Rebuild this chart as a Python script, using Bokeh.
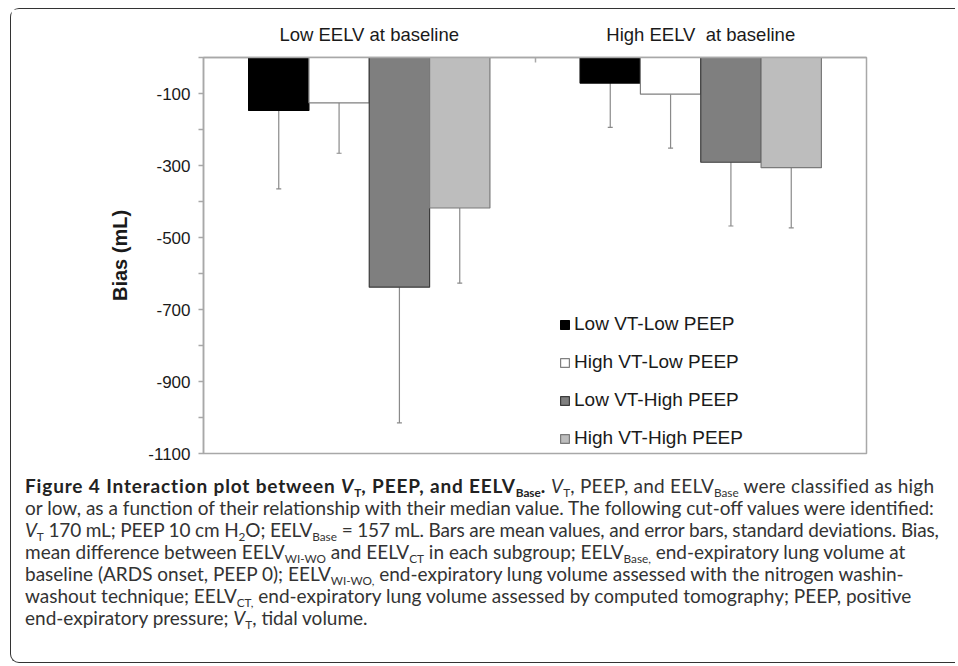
from bokeh.plotting import figure
from bokeh.models import (Range1d, FixedTicker, Legend, LegendItem, Whisker,
                          ColumnDataSource, TeeHead, Div, LinearAxis)
from bokeh.layouts import column
from bokeh.embed import file_html
from bokeh.resources import INLINE

# ---------------- data ----------------
groups = ["Low EELV at baseline", "High EELV\u00a0 at baseline"]
series = ["Low VT-Low PEEP", "High VT-Low PEEP", "Low VT-High PEEP", "High VT-High PEEP"]
mean_low_vt_low_peep = [-147, -71]
mean_high_vt_low_peep = [-126, -102]
mean_low_vt_high_peep = [-638, -291]
mean_high_vt_high_peep = [-418, -306]
sd_low_vt_low_peep = [218, 123]
sd_high_vt_low_peep = [140, 150]
sd_low_vt_high_peep = [377, 177]
sd_high_vt_high_peep = [209, 167]
y_tick_values = [-100, -300, -500, -700, -900, -1100]
y_minor_values = [0, -200, -400, -600, -800, -1000]

means = [mean_low_vt_low_peep, mean_high_vt_low_peep, mean_low_vt_high_peep, mean_high_vt_high_peep]
sds = [sd_low_vt_low_peep, sd_high_vt_low_peep, sd_low_vt_high_peep, sd_high_vt_high_peep]

fills = ["#000000", "#ffffff", "#7f7f7f", "#bdbdbd"]
lines = ["#000000", "#808080", "#3c3c3c", "#7a7a7a"]

FONT = "Liberation Sans"
BW = 0.182
GRAY = "#a8a8a8"

p = figure(width=944, height=466, output_backend="svg", toolbar_location=None,
           x_range=Range1d(0, 2), y_range=Range1d(-1100, 0),
           x_axis_location="above",
           min_border_left=192, min_border_right=89, min_border_top=48, min_border_bottom=22)
p.outline_line_color = GRAY
p.outline_line_width = 1.5
p.xgrid.visible = False
p.ygrid.visible = False

# top x axis: separator tick between the two groups
xa = p.xaxis[0]
xa.ticker = FixedTicker(ticks=[1], minor_ticks=[])
xa.major_label_overrides = {1: ""}
xa.major_label_text_font_size = "1px"
xa.major_label_standoff = 0
xa.major_tick_in = 5
xa.major_tick_out = 0
xa.minor_tick_in = 0
xa.minor_tick_out = 0
xa.axis_line_color = GRAY
xa.axis_line_width = 1.5
xa.major_tick_line_color = GRAY
xa.major_tick_line_width = 1.5

# second top axis carrying the group titles
group_pos = [g + 0.5 for g in range(len(groups))]
ta = LinearAxis(ticker=FixedTicker(ticks=group_pos, minor_ticks=[]),
                major_label_overrides={x: n for x, n in zip(group_pos, groups)},
                axis_line_color=None, major_tick_line_color=None, minor_tick_line_color=None,
                major_label_text_font=FONT, major_label_text_font_size="18.5px",
                major_label_text_color="#1a1a1a", major_label_standoff=7)
p.add_layout(ta, "above")

ya = p.yaxis[0]
ya.ticker = FixedTicker(ticks=y_tick_values, minor_ticks=y_minor_values)
ya.major_label_overrides = {v: str(v) for v in y_tick_values}
ya.major_tick_in = 0
ya.major_tick_out = 5
ya.minor_tick_in = 0
ya.minor_tick_out = 5
ya.axis_line_color = GRAY
ya.axis_line_width = 1.5
ya.major_tick_line_color = GRAY
ya.minor_tick_line_color = GRAY
ya.major_tick_line_width = 1.5
ya.minor_tick_line_width = 1.5
ya.major_label_text_font = FONT
ya.major_label_text_font_size = "17px"
ya.major_label_text_color = "#1a1a1a"
ya.major_label_standoff = 8
ya.axis_label = "Bias (mL)"
ya.axis_label_text_font = FONT
ya.axis_label_text_font_size = "20px"
ya.axis_label_text_font_style = "bold"
ya.axis_label_text_color = "#1a1a1a"
ya.axis_label_standoff = 14

items = []
for i, s in enumerate(series):
    xs = [g + 0.5 + (i - 1.5) * BW for g in range(len(groups))]
    src = ColumnDataSource(dict(x=xs, top=[0] * len(groups), bottom=means[i],
                                lower=[m - d for m, d in zip(means[i], sds[i])]))
    r = p.vbar(x="x", width=BW, top="top", bottom="bottom", source=src,
               fill_color=fills[i], line_color=lines[i], line_width=1.2)
    w = Whisker(base="x", upper="bottom", lower="lower", source=src, dimension="height",
                line_color="#8a8a8a", line_width=1.2, upper_head=None,
                lower_head=TeeHead(size=5, line_color="#8a8a8a", line_width=1.2))
    p.add_layout(w)
    items.append(LegendItem(label=s, renderers=[r]))

legend = Legend(items=items, location=(356, 4), padding=0, margin=0, spacing=16,
                label_standoff=4, glyph_width=11, glyph_height=11, label_height=22,
                label_text_font=FONT, label_text_font_size="19px", label_text_color="#1a1a1a",
                border_line_color=None, background_fill_alpha=0)
p.add_layout(legend)

# ---------------- caption ----------------
def sub(t):
    return ('<sub style="font-size:0.62em;line-height:0;vertical-align:-0.3em;letter-spacing:0">'
            + t + '</sub>')

VT = '<i>V</i>' + sub('T')
caption_lines = [
    '<b style="color:#222;letter-spacing:0.85px">Figure 4 Interaction plot between ' + VT
    + ', PEEP, and EELV' + sub('Base') + '.</b> <span style="letter-spacing:0.25px">'
    + VT + ', PEEP, and EELV' + sub('Base') + ' were classified as high</span>',
    'or low, as a function of their relationship with their median value. The following cut-off values were identified:',
    '<span style="letter-spacing:-0.15px">' + VT + ' 170 mL; PEEP 10 cm H' + sub('2') + 'O; EELV' + sub('Base')
    + ' = 157 mL. Bars are mean values, and error bars, standard deviations. Bias,</span>',
    'mean difference between EELV' + sub('WI-WO') + ' and EELV' + sub('CT')
    + ' in each subgroup; EELV' + sub('Base,') + ' end-expiratory lung volume at',
    'baseline (ARDS onset, PEEP 0); EELV' + sub('WI-WO,')
    + ' end-expiratory lung volume assessed with the nitrogen washin-',
    'washout technique; EELV' + sub('CT,')
    + ' end-expiratory lung volume assessed by computed tomography; PEEP, positive',
    'end-expiratory pressure; ' + VT + ', tidal volume.',
]
html = ('<div style="font-family:Lato;font-size:19px;line-height:22px;color:#333;'
        'white-space:nowrap">' + '<br>'.join(caption_lines) + '</div>')
div = Div(text=html, width=925, height=187, margin=(0, 0, 0, 14))

layout = column(p, div, margin=(8, 0, 0, 10), styles={
    "border-top": "1.5px solid #333", "border-left": "1.5px solid #333",
    "border-bottom": "1.5px solid #333", "border-right": "0px none white",
    "border-top-left-radius": "9px", "border-bottom-left-radius": "9px",
    "background-color": "white"})

open("out.html", "w").write(file_html(layout, INLINE))
